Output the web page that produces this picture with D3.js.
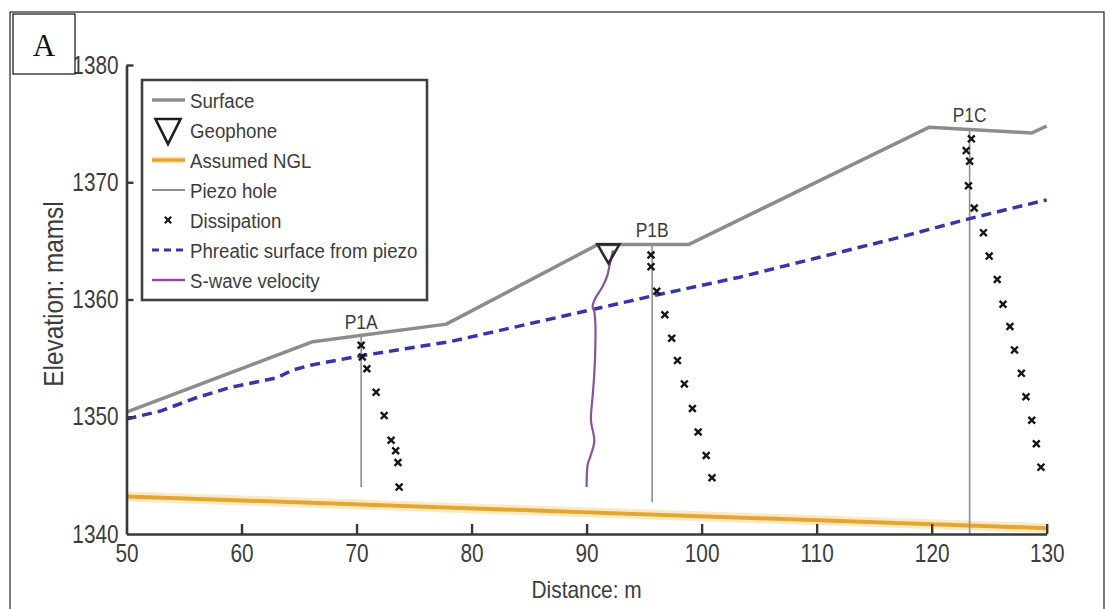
<!DOCTYPE html>
<html>
<head>
<meta charset="utf-8">
<script src="https://cdn.jsdelivr.net/npm/d3@7"></script>
<style>
  html, body { margin: 0; padding: 0; background: #fff; }
  svg { display: block; }
  .nar { font-family: "Liberation Sans", Arial, sans-serif; fill: #3c3c3c; }
</style>
</head>
<body>
<svg id="chart" width="1106" height="609"></svg>
<script>
// ---- data ----
const xTicks = [50, 60, 70, 80, 90, 100, 110, 120, 130];
const yTicks = [1340, 1350, 1360, 1370, 1380];

// ground surface profile (distance m, elevation mamsl)
const surfaceDist = [50, 66.2, 77.8, 91.0, 98.9, 119.8, 128.7, 130];
const surfaceElev = [1350.4, 1356.4, 1357.9, 1364.7, 1364.7, 1374.7, 1374.2, 1374.8];

// phreatic surface interpreted from piezometers
const phreaticDist = [50, 53, 56, 59, 63, 64.5, 66, 70.4, 78.1, 87.6, 95.7, 103.3, 117.2, 123.3, 130];
const phreaticElev = [1349.8, 1350.5, 1351.6, 1352.5, 1353.3, 1354.0, 1354.4, 1355.2, 1356.4, 1358.5, 1360.3, 1361.9, 1365.3, 1366.9, 1368.5];

// assumed natural ground level
const nglDist = [50, 130];
const nglElev = [1343.2, 1340.5];

// piezometer holes
const piezoNames = ["P1A", "P1B", "P1C"];
const piezoDist = [70.4, 95.7, 123.3];
const piezoTop = [1356.9, 1364.7, 1374.5];
const piezoBottom = [1344.0, 1342.7, 1340.0];

// dissipation test points
const p1aDist = [70.4, 70.5, 70.9, 71.7, 72.4, 73.0, 73.4, 73.6, 73.7];
const p1aElev = [1356.1, 1355.1, 1354.1, 1352.1, 1350.1, 1348.0, 1347.1, 1346.1, 1344.0];
const p1bDist = [95.6, 95.6, 96.1, 96.8, 97.4, 97.9, 98.5, 99.2, 99.7, 100.4, 100.9];
const p1bElev = [1363.8, 1362.8, 1360.7, 1358.7, 1356.7, 1354.8, 1352.8, 1350.7, 1348.7, 1346.7, 1344.8];
const p1cDist = [123.45, 123.0, 123.3, 123.2, 123.7, 124.5, 125.0, 125.7, 126.2, 126.8, 127.2, 127.8, 128.2, 128.7, 129.1, 129.5];
const p1cElev = [1373.7, 1372.7, 1371.8, 1369.7, 1367.8, 1365.7, 1363.7, 1361.7, 1359.6, 1357.7, 1355.7, 1353.7, 1351.7, 1349.7, 1347.7, 1345.7];

// geophone location and S-wave velocity trace
const geophoneDist = [91.9];
const geophoneElev = [1364.7];
const swaveDist = [92.3, 91.97, 91.82, 91.39, 90.76, 90.52, 90.64, 90.76, 90.76, 90.67, 90.52, 90.38, 90.67, 90.32, 90.09, 90.0];
const swaveElev = [1364.2, 1362.8, 1362.1, 1361.1, 1360.1, 1359.4, 1359.1, 1358.0, 1356.0, 1353.7, 1351.7, 1349.7, 1347.9, 1346.6, 1345.9, 1344.0];

const legendItems = ["Surface", "Geophone", "Assumed NGL", "Piezo hole", "Dissipation", "Phreatic surface from piezo", "S-wave velocity"];

// ---- styles ----
const C = {
  axis: "#383838",
  surface: "#8c8c8c",
  piezo: "#8e8e8e",
  ngl: "#e4a533",
  nglHalo: "#f6dc9c",
  phreatic: "#3535b0",
  swave: "#8e4f9e",
  marker: "#161616"
};
const SQ = 0.87; // horizontal squeeze giving a condensed face

const svg = d3.select("#chart");
const x = d3.scaleLinear().domain([50, 130]).range([126.5, 1046.7]);
const y = d3.scaleLinear().domain([1340, 1380]).range([534, 65]);

// condensed text helper
function ctext(parent, str, px, py, size, anchor, k = SQ, rot = 0) {
  return parent.append("text").attr("class", "nar")
    .attr("font-size", size).attr("text-anchor", anchor || "start")
    .attr("transform", `translate(${px},${py})${rot ? ` rotate(${rot})` : ""} scale(${k},1)`)
    .text(str);
}

// outer frame
svg.append("rect").attr("x", 10).attr("y", 12).attr("width", 1094).attr("height", 620)
  .attr("fill", "none").attr("stroke", "#222").attr("stroke-width", 1.2);

const zip = (a, b) => a.map((v, i) => [v, b[i]]);
const line = d3.line().x(d => x(d[0])).y(d => y(d[1]));

// assumed NGL with soft halo
svg.append("path").datum(zip(nglDist, nglElev)).attr("d", line)
  .attr("fill", "none").attr("stroke", C.nglHalo).attr("stroke-width", 10).attr("stroke-opacity", 0.6);
svg.append("path").datum(zip(nglDist, nglElev)).attr("d", line)
  .attr("fill", "none").attr("stroke", C.ngl).attr("stroke-width", 4);

// piezo holes
svg.append("g").selectAll("line").data(piezoDist).join("line")
  .attr("x1", d => x(d)).attr("x2", d => x(d))
  .attr("y1", (d, i) => y(piezoTop[i])).attr("y2", (d, i) => y(piezoBottom[i]))
  .attr("stroke", C.piezo).attr("stroke-width", 1.6);

// phreatic surface
svg.append("path").datum(zip(phreaticDist, phreaticElev)).attr("d", line)
  .attr("fill", "none").attr("stroke", C.phreatic).attr("stroke-width", 3.5)
  .attr("stroke-dasharray", "10,6");

// surface
svg.append("path").datum(zip(surfaceDist, surfaceElev)).attr("d", line)
  .attr("fill", "none").attr("stroke", C.surface).attr("stroke-width", 3.5)
  .attr("stroke-linejoin", "round");

// S-wave velocity trace
svg.append("path").datum(zip(swaveDist, swaveElev))
  .attr("d", d3.line().x(d => x(d[0])).y(d => y(d[1])).curve(d3.curveCatmullRom))
  .attr("fill", "none").attr("stroke", C.swave).attr("stroke-width", 2.2);

// geophone triangle
const tri = (cx, top, w, h) => `M${cx - w / 2},${top}L${cx + w / 2},${top}L${cx},${top + h}Z`;
svg.append("g").selectAll("path").data(geophoneDist).join("path")
  .attr("d", (d, i) => tri(x(d), y(geophoneElev[i]), 22, 19))
  .attr("fill", "none").attr("stroke", "#2a2a2a").attr("stroke-width", 2.6);

// dissipation markers
const cross = (cx, cy, r) => `M${cx - r},${cy - r}L${cx + r},${cy + r}M${cx - r},${cy + r}L${cx + r},${cy - r}`;
const marks = [].concat(zip(p1aDist, p1aElev), zip(p1bDist, p1bElev), zip(p1cDist, p1cElev));
svg.append("g").selectAll("path").data(marks).join("path")
  .attr("d", d => cross(x(d[0]), y(d[1]), 3.4))
  .attr("stroke", C.marker).attr("stroke-width", 2.4).attr("fill", "none");

// piezo labels
const pl = svg.append("g");
piezoNames.forEach((n, i) => ctext(pl, n, x(piezoDist[i]), y(piezoTop[i]) - 7, 20, "middle"));

// axes
const xAxis = d3.axisBottom(x).tickValues(xTicks).tickFormat(d3.format("d"))
  .tickSize(-10).tickPadding(10).tickSizeOuter(0);
const gx = svg.append("g").attr("transform", `translate(0,${y(1340)})`).call(xAxis);
const yAxis = d3.axisLeft(y).tickValues(yTicks).tickFormat(d3.format("d"))
  .tickSize(-7).tickPadding(0).tickSizeOuter(0);
const gy = svg.append("g").attr("transform", `translate(${x(50)},0)`).call(yAxis);
[gx, gy].forEach(g => {
  g.select(".domain").attr("stroke", C.axis).attr("stroke-width", 2.6);
  g.selectAll(".tick line").attr("stroke", C.axis).attr("stroke-width", 2.4);
  g.selectAll(".tick text").attr("class", "nar").attr("font-size", 25).attr("fill", "#3c3c3c");
});
gx.selectAll(".tick").filter(d => d === 50).select("line").remove();
gy.selectAll(".tick").filter(d => d === 1340).select("line").remove();
gx.selectAll(".tick text").attr("dy", "0.72em").attr("transform", "scale(0.83,1)");
gy.selectAll(".tick text").attr("x", 0).attr("dy", "0.32em").attr("transform", "translate(-8,0) scale(0.83,1)");

// axis titles
ctext(svg, "Distance: m", (x(50) + x(130)) / 2, 598, 24, "middle");
ctext(svg, "Elevation: mamsl", 63, 294, 28, "middle", SQ, -90);

// legend
const lg = svg.append("g");
lg.append("rect").attr("x", 142).attr("y", 80).attr("width", 285).attr("height", 220)
  .attr("fill", "#fff").attr("stroke", "#404040").attr("stroke-width", 2.6);
const rowY = i => 100 + i * 30;
const sx1 = 152, sx2 = 185, sxc = 168;
lg.append("line").attr("x1", sx1).attr("x2", sx2).attr("y1", rowY(0)).attr("y2", rowY(0))
  .attr("stroke", C.surface).attr("stroke-width", 3.5);
lg.append("path").attr("d", tri(sxc, rowY(1) - 11, 25, 25))
  .attr("fill", "none").attr("stroke", "#1e1e1e").attr("stroke-width", 2.6);
lg.append("line").attr("x1", sx1).attr("x2", sx2).attr("y1", rowY(2)).attr("y2", rowY(2))
  .attr("stroke", C.nglHalo).attr("stroke-width", 7).attr("stroke-opacity", 0.6);
lg.append("line").attr("x1", sx1).attr("x2", sx2).attr("y1", rowY(2)).attr("y2", rowY(2))
  .attr("stroke", C.ngl).attr("stroke-width", 3.5);
lg.append("line").attr("x1", sx1).attr("x2", sx2).attr("y1", rowY(3)).attr("y2", rowY(3))
  .attr("stroke", C.piezo).attr("stroke-width", 2.2);
lg.append("path").attr("d", cross(sxc, rowY(4), 3.2))
  .attr("stroke", C.marker).attr("stroke-width", 2.2);
lg.append("line").attr("x1", sx1).attr("x2", sx2).attr("y1", rowY(5)).attr("y2", rowY(5))
  .attr("stroke", C.phreatic).attr("stroke-width", 3.2).attr("stroke-dasharray", "7,5");
lg.append("line").attr("x1", sx1).attr("x2", sx2).attr("y1", rowY(6)).attr("y2", rowY(6))
  .attr("stroke", C.swave).attr("stroke-width", 2.6);
legendItems.forEach((t, i) => ctext(lg, t, 190, rowY(i) + 8, 21, "start", 0.89));

// panel tag
svg.append("rect").attr("x", 13).attr("y", 14).attr("width", 62).attr("height", 60)
  .attr("fill", "#fff").attr("stroke", "#111").attr("stroke-width", 1.2);
svg.append("text").attr("x", 44).attr("y", 56).attr("text-anchor", "middle")
  .attr("font-family", "'Liberation Serif', 'Times New Roman', serif").attr("font-size", 31)
  .attr("fill", "#111").text("A");
</script>
</body>
</html>
